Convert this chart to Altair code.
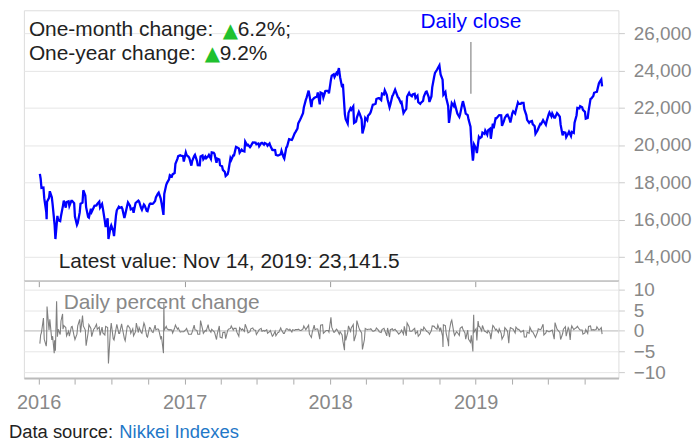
import altair as alt
import pandas as pd

FONT = "Liberation Sans"

# ---------------- data ----------------
# Nikkei 225 closes on Fridays
close_fri_2016 = [17698, 17147, 16958, 17518, 16819, 14953, 15967, 16188, 17015, 16939,
                  16725, 17003, 16164, 15822, 16848, 17572, 16666, 16106, 16412, 16736,
                  16834, 16642, 16601, 15599, 14952, 15682, 15107, 16497, 16627, 16569,
                  16254, 16920, 16546, 16360, 16926, 16965, 16519, 16754, 16450, 16860,
                  16856, 17185, 17446, 16905, 17374, 17968, 18381, 18426, 18996, 19401,
                  19428, 19114]
close_fri_2017 = [19454, 19287, 19137, 19467, 18918, 19378, 19235, 19284, 19469, 19605,
                  19522, 19263, 18909, 18665, 18336, 18620, 19197, 19446, 19883, 19591,
                  19687, 20177, 20013, 19943, 20132, 20033, 19929, 20119, 20100, 19960,
                  19952, 19730, 19470, 19453, 19691, 19275, 19910, 20296, 20356, 20691,
                  21155, 21457, 22008, 22539, 22681, 22397, 22551, 22819, 22811, 22553,
                  22903, 22765]
close_fri_2018 = [23715, 23654, 23808, 23632, 23274, 21383, 21720, 21893, 21182, 21469,
                  21676, 20617, 21454, 21568, 21779, 22163, 22468, 22508, 22758, 22930,
                  22451, 22171, 22695, 22852, 22517, 22305, 21788, 22597, 22698, 22713,
                  22525, 22298, 22270, 22601, 22865, 22307, 23095, 23870, 24120, 23784,
                  22694, 22532, 21185, 22244, 22250, 21680, 21647, 22351, 21679, 21375,
                  20166, 20015]
close_fri_2019 = [19562, 20360, 20666, 20774, 20788, 20333, 20901, 21426, 21603, 21026,
                  21451, 21627, 21206, 21807, 21871, 22200, 22259, 21923, 21345, 21250,
                  21117, 20601, 20885, 21117, 21259, 21276, 21746, 21686, 21467, 21658,
                  21088, 20685, 20419, 20711, 20704, 21200, 21988, 22079, 21879, 21410,
                  21799, 22493, 22800, 22851, 23392]
# Nikkei 225 closes on Wednesdays
close_wed_2016 = [18191, 17716, 16416, 17163, 17191, 15713, 16196, 15915, 16747, 16642,
                  16975, 17000, 16879, 15715, 16381, 16906, 17290, 16147, 16579, 16646,
                  16757, 16955, 16830, 15919, 16066, 15567, 15379, 16231, 16681, 16665,
                  16084, 16735, 16745, 16597, 16887, 17012, 16614, 16808, 16465, 16819,
                  16840, 16998, 17391, 17134, 16251, 17862, 18162, 18308, 18496, 19253,
                  19444, 19401]
close_wed_2017 = [19594, 19364, 18894, 19402, 19148, 18908, 19437, 19380, 19393, 19254,
                  19577, 19041, 19217, 18861, 18552, 18432, 19289, 19445, 19900, 19814,
                  19742, 19650, 19984, 19883, 20138, 20130, 20081, 20098, 20020, 20050,
                  20080, 19738, 19729, 19434, 19507, 19357, 19865, 20310, 20267, 20626,
                  20881, 21363, 21708, 22420, 22914, 22028, 22523, 22597, 22177, 22758,
                  22892, 22911]
close_wed_2018 = [23506, 23788, 23868, 23940, 23098, 21645, 21154, 21970, 22068, 21253,
                  21777, 21380, 21031, 21320, 21687, 22158, 22215, 22508, 22408, 22717,
                  22689, 22018, 22625, 22966, 22555, 22272, 21717, 21932, 22794, 22614,
                  22746, 22644, 22204, 22362, 22848, 22580, 22604, 23672, 24033, 24110,
                  23506, 22841, 22091, 21920, 22085, 21846, 21507, 22177, 21920, 21602,
                  20987, 19327]
close_wed_2019 = [19800, 20427, 20442, 20593, 20556, 20874, 21144, 21431, 21556, 21596,
                  21290, 21608, 21378, 21713, 21687, 22277, 22200, 22258, 21602, 21189,
                  21283, 21003, 20776, 21129, 21333, 21086, 21638, 21533, 21469, 21709,
                  21521, 20516, 20655, 20618, 20479, 20649, 21597, 21960, 22020, 21778,
                  21456, 22472, 22625, 22843, 23303]
# other daily closes (turning points)
extra_close_dates = ["2016-01-04", "2016-01-21", "2018-01-23", "2018-10-02",
                     "2018-12-25", "2019-11-12", "2019-11-14"]
extra_close_values = [18451, 16017, 24124, 24270, 19155, 23520, 23141.5]

# daily percent change on Fridays
pct_fri_2016 = [-0.4, -2.0, 5.9, 2.8, -1.3, -4.8, 0.4, 2.4, 1.3, -1.2,
                -1.3, 1.1, -2.1, 1.2, -0.4, 1.2, -3.6, 1.5, -1.4, 0.6,
                0.4, -1.1, -0.5, 1.1, -7.9, 1.9, -2.2, 1.6, -0.6, 0.6,
                -2.4, 1.3, -0.6, -1.2, 1.9, 0.8, -0.6, 1.4, -1.5, 0.7,
                -0.4, 0.3, 0.3, -1.3, 0.2, 0.5, 0.3, -0.5, 1.4, 0.7,
                -0.2, -0.2]
pct_fri_2017 = [0.6, -0.8, -0.3, 0.3, -0.8, 2.5, -0.6, -0.1, 0.4, 0.4,
                -0.3, -0.7, -1.5, -0.4, -1.9, 0.4, 1.2, 0.6, -0.3, 0.8,
                0.5, 1.6, -0.5, 0.5, 0.3, -0.9, 0.3, -0.1, -0.1, -0.6,
                0.1, -1.1, -1.2, -0.4, 0.2, -0.6, 0.5, 0.4, 0.3, 0.3,
                0.4, 0.1, 1.2, 0.6, -0.8, -0.4, 0.3, 0.4, 1.4, -0.6,
                0.1, -0.3]
pct_fri_2018 = [0.9, -0.3, 0.2, -0.2, -2.5, -2.3, 1.2, 0.7, -2.5, 2.5,
                0.3, -4.5, 0.6, 0.4, 0.5, -0.1, 0.7, -0.2, 0.3, 0.1,
                0.7, 0.3, 0.1, 0.1, -0.8, 0.2, 1.1, 1.9, -0.1, 0.2,
                -0.7, -1.3, 0.4, 0.9, -0.1, -0.8, 1.2, 0.8, 1.4, 0.8,
                1.5, -0.6, -0.4, 2.6, -1.1, -0.4, 0.6, 0.4, -2.0, -2.0,
                -1.1, -0.3]
pct_fri_2019 = [-2.3, 1.0, 1.3, -0.1, 0.1, -2.0, 1.1, 0.4, 0.5, -2.0,
                0.8, -0.2, 0.8, 0.4, 0.9, 0.4, -0.2, -1.5, -0.3, 0.9,
                -0.2, -1.6, 0.5, 0.4, -1.0, 0.1, -0.2, 0.2, 2.0, 0.2,
                -2.1, 0.4, -1.3, 0.4, 1.2, 0.5, 1.1, 0.2, -0.8, 0.3,
                1.1, 0.2, 0.2, 1.0, 0.3]
# daily percent change on Wednesdays
pct_wed_2016 = [-1.0, 3.1, -3.7, 0.2, -2.2, -2.3, -1.4, -0.9, 0.4, 0.8,
                -0.1, 1.0, -1.3, -0.8, 2.8, 3.7, 0.2, -0.5, 0.6, 0.4,
                1.6, 0.9, 0.9, -1.0, 0.8, 0.1, -1.9, 0.5, -0.6, 1.7,
                -1.9, 1.0, 0.6, 0.5, -0.2, -0.4, -0.4, 1.9, -1.3, 0.8,
                -0.3, 1.4, 0.5, -1.8, -5.4, 1.1, 0.2, 0.2, 0.7, 0.4,
                -0.3, -0.2]
pct_wed_2017 = [0.3, -0.8, -0.8, 1.4, 0.1, -0.8, 0.4, 0.1, 1.5, -0.3,
                -0.1, -2.1, 1.2, -1.7, -0.3, 0.1, 0.6, 0.2, 0.6, -1.3,
                0.2, -0.1, 0.3, -0.2, 0.7, 0.1, -0.1, 0.6, 0.1, 0.3,
                -0.2, -1.3, -0.1, -0.4, 0.7, -0.6, 0.5, 0.1, -0.3, 0.1,
                0.3, 0.1, 0.5, 0.3, 1.4, -1.6, 1.4, 0.5, -2.0, 1.5,
                -0.1, 0.1]
pct_wed_2018 = [3.3, -0.3, 0.4, -0.8, -1.0, 0.2, -0.4, -0.1, 1.5, -0.8,
                0.8, -0.5, -2.1, 0.3, 0.4, -0.1, 0.2, 0.2, -0.4, 0.6,
                -1.2, -1.5, 0.5, 0.4, -0.5, -0.3, -0.8, -1.2, 1.0, -0.1,
                0.6, -0.1, -0.7, 0.1, 0.2, -0.4, 0.1, 1.1, 0.4, 0.1,
                -1.3, 1.3, -2.7, 2.2, -0.3, -0.2, -1.1, 1.0, -0.5, 0.2,
                -2.8, 0.9]
pct_wed_2019 = [0.5, 1.1, 0.0, -0.1, -0.5, -0.6, 1.3, 0.2, -0.4, -0.6,
                -1.0, 0.2, -0.3, 0.5, -0.5, 0.3, -0.3, 0.1, -1.5, -0.6,
                -0.2, -1.2, -0.3, 0.3, 1.6, -0.5, -0.2, 0.1, -2.0, 0.4,
                -0.4, -0.7, 1.0, 0.8, 0.3, 0.3, 0.8, 0.4, 0.2, -0.5,
                -0.6, 1.2, 0.3, 0.3, 0.2]
extra_pct_dates = ["2016-01-04", "2016-01-21", "2016-02-09", "2016-02-15",
                   "2016-03-01", "2016-11-10", "2018-02-06", "2018-10-11",
                   "2018-10-25", "2018-12-25", "2018-12-27", "2019-01-07", "2019-03-25",
                   "2019-08-26", "2019-11-12", "2019-11-14"]
extra_pct_values = [-3.1, -2.4, -5.4, 7.2,
                    4.1, 6.7, -4.7, -3.9,
                    -3.7, -5.0, 3.9, 2.4, -3.0,
                    -2.2, 0.8, -0.8]

one_month_change = "6.2%;"
one_year_change = "9.2%"
latest_label = "Latest value: Nov 14, 2019: 23,141.5"
callout_date = "2018-12-20"

close_ticks = [14000, 16000, 18000, 20000, 22000, 24000, 26000]
pct_ticks = [-10, -5, 0, 5, 10]
years = [2016, 2017, 2018, 2019]

# ---------------- tables ----------------
fri = [d.strftime("%Y-%m-%d") for d in pd.date_range("2016-01-08", "2019-11-08", freq="W-FRI")]
wed = [d.strftime("%Y-%m-%d") for d in pd.date_range("2016-01-06", "2019-11-06", freq="W-WED")]

close_df = pd.DataFrame({
    "date": fri + wed + extra_close_dates,
    "close": (close_fri_2016 + close_fri_2017 + close_fri_2018 + close_fri_2019
              + close_wed_2016 + close_wed_2017 + close_wed_2018 + close_wed_2019
              + extra_close_values),
}).sort_values("date")
pct_df = pd.DataFrame({
    "date": fri + wed + extra_pct_dates,
    "pct": (pct_fri_2016 + pct_fri_2017 + pct_fri_2018 + pct_fri_2019
            + pct_wed_2016 + pct_wed_2017 + pct_wed_2018 + pct_wed_2019
            + extra_pct_values),
}).sort_values("date")

W = 598
H_TOP = 272
H_BOT = 98

x_scale = alt.Scale(domain=[alt.DateTime(year=2015, month=11, date=25),
                            alt.DateTime(year=2019, month=12, date=25)])
year_vals = [alt.DateTime(year=y, month=1, date=1) for y in years]
quarter_vals = [alt.DateTime(year=y, month=m, date=1) for y in years for m in (1, 4, 7, 10)]

right_axis = dict(orient="right", domain=False, tickSize=6, tickColor="#cccccc",
                  labelColor="#888888", labelFontSize=19, labelPadding=9,
                  gridColor="#e6e6e6", title=None, labelFont=FONT)

# ---------------- top panel ----------------
x_top = alt.X("date:T", scale=x_scale, title=None,
              axis=alt.Axis(values=year_vals, labels=False, grid=False,
                            domainColor="#777777", tickColor="#999999", tickSize=6))

line = alt.Chart(close_df).mark_line(color="#0000ff", strokeWidth=2.3).encode(
    x=x_top,
    y=alt.Y("close:Q", scale=alt.Scale(domain=[12720, 27227], nice=False, zero=False),
            axis=alt.Axis(values=close_ticks, format=",d", **right_axis)),
)

callout = alt.Chart(pd.DataFrame({"date": [callout_date]})).mark_rule(
    color="#888888", strokeWidth=1.2).encode(
    x=x_top, y=alt.value(32), y2=alt.value(84))

callout_text = alt.Chart(pd.DataFrame({"date": [callout_date], "t": ["Daily close"]})).mark_text(
    color="#0000ff", fontSize=21, font=FONT, align="center", baseline="alphabetic").encode(
    x=x_top, y=alt.value(18), text="t:N")


def label(text, x, y, color="#222222", size=21, font=FONT):
    return alt.Chart(pd.DataFrame({"t": [text]})).mark_text(
        color=color, fontSize=size, font=font, align="left", baseline="alphabetic").encode(
        x=alt.value(x), y=alt.value(y), text="t:N")


GREEN = "#1fc12f"
top = alt.layer(
    line, callout, callout_text,
    label("One-month change:", 5, 26),
    label("\u25b2", 200, 26.5, color=GREEN, size=20, font="DejaVu Sans"),
    label(one_month_change, 215, 26),
    label("One-year change:", 5, 50),
    label("\u25b2", 182, 50.5, color=GREEN, size=20, font="DejaVu Sans"),
    label(one_year_change, 197, 50),
    label(latest_label, 35, 259),
).properties(width=W, height=H_TOP)

# ---------------- bottom panel ----------------
x_bot = alt.X("date:T", scale=x_scale, title=None,
              axis=alt.Axis(values=quarter_vals, grid=False,
                            labelExpr="month(datum.value) == 0 ? timeFormat(datum.value, '%Y') : ''",
                            domainColor="#bbbbbb", domainWidth=2, tickColor="#aaaaaa",
                            tickSize=6, labelColor="#888888", labelFontSize=20,
                            labelPadding=9, labelFont=FONT, labelFlush=False,
                            labelOverlap=False))

pct_y = alt.Y("pct:Q", scale=alt.Scale(domain=[-11.45, 12.17], nice=False),
              axis=alt.Axis(values=pct_ticks, format="d", **right_axis))

zero = alt.Chart(pd.DataFrame({"pct": [0]})).mark_rule(color="#cccccc", strokeWidth=1.5).encode(y=pct_y)

pct_line = alt.Chart(pct_df).mark_line(color="#808080", strokeWidth=1.1).encode(x=x_bot, y=pct_y)

bottom = alt.layer(
    zero, pct_line,
    label("Daily percent change", 40, 28, color="#888888"),
    label("Data source:", -15, 158, color="#222222", size=18.5),
    label("Nikkei Indexes", 96, 158, color="#1f78c8", size=18.5),
).properties(width=W, height=H_BOT)

chart = alt.vconcat(top, bottom, spacing=0, bounds="flush").properties(
    padding={"left": 0, "top": 0, "right": 0, "bottom": 0}
).configure_view(stroke=None).configure(font=FONT)

chart.save("out.html", embed_options={"renderer": "svg", "actions": False})
